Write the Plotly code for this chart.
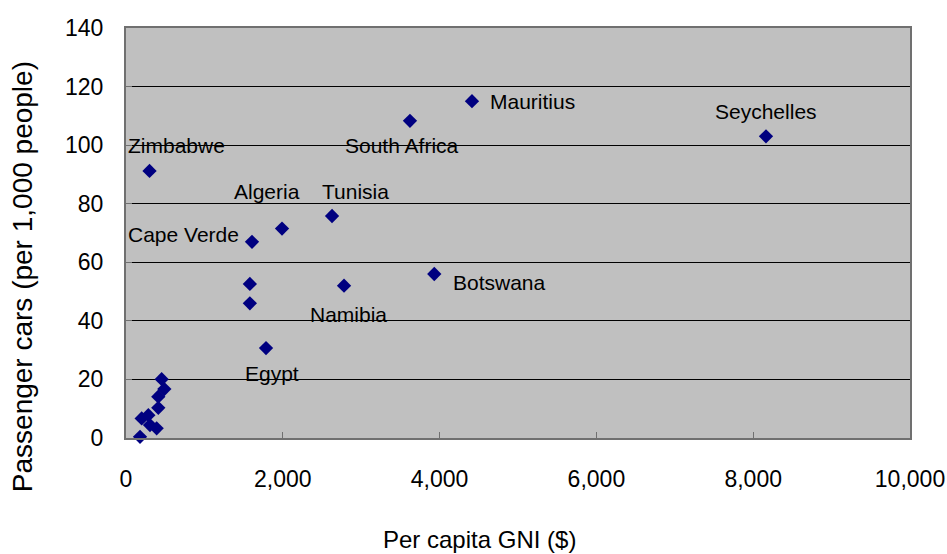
import plotly.graph_objects as go

# Data
countries = ["Mauritius", "Seychelles", "South Africa", "Zimbabwe", "Tunisia",
             "Algeria", "Cape Verde", "Botswana", "", "", "Namibia", "Egypt",
             "", "", "", "", "", "", "", "", ""]
gni = [4413, 8163, 3622, 300, 2628,
       1990, 1607, 3932, 1580, 1580, 2781, 1786,
       455, 489, 412, 412, 200, 285, 391, 306, 179]
cars = [115.0, 103.0, 108.3, 91.2, 75.8,
        71.5, 67.0, 56.0, 52.6, 46.0, 52.0, 30.7,
        20.1, 16.7, 14.1, 10.3, 6.7, 7.8, 3.3, 4.4, 0.4]

x_ticks = [0, 2000, 4000, 6000, 8000, 10000]
y_ticks = [0, 20, 40, 60, 80, 100, 120, 140]

# Label placement (style): anchor and pixel offsets from the point
label_style = {
    "Mauritius": ("left", 16, 0),
    "Seychelles": ("center", 0, 25),
    "South Africa": ("center", -8, -25),
    "Zimbabwe": ("center", 27, 25),
    "Tunisia": ("center", 23, 25),
    "Algeria": ("center", -15, 37),
    "Cape Verde": ("right", -11, 7),
    "Botswana": ("left", 17, -8),
    "Namibia": ("center", 4, -29),
    "Egypt": ("center", 6, -25),
}

FONT = "Liberation Sans, Arial, sans-serif"

fig = go.Figure()
fig.add_trace(go.Scatter(
    x=gni, y=cars, mode="markers",
    marker=dict(symbol="diamond", size=11, color="#000080", line=dict(width=0)),
    cliponaxis=False, showlegend=False, hoverinfo="x+y",
))

annotations = []
for name, xv, yv in zip(countries, gni, cars):
    if not name:
        continue
    anchor, dx, dy = label_style[name]
    annotations.append(dict(
        x=xv, y=yv, xref="x", yref="y", text=name, showarrow=False,
        xanchor=anchor, yanchor="middle", xshift=dx, yshift=dy,
        font=dict(family=FONT, size=21, color="black"),
    ))

annotations.append(dict(
    x=0.4515, y=-0.2465, xref="paper", yref="paper", text="Per capita GNI ($)",
    showarrow=False, xanchor="center", yanchor="middle",
    font=dict(family=FONT, size=24, color="black"),
))
annotations.append(dict(
    x=-0.131, y=0.393, xref="paper", yref="paper",
    text="Passenger cars (per 1,000 people)", textangle=-90,
    showarrow=False, xanchor="center", yanchor="middle",
    font=dict(family=FONT, size=28, color="black"),
))

fig.update_layout(
    width=947, height=554,
    margin=dict(l=126, r=37, t=28, b=116, autoexpand=False),
    paper_bgcolor="white", plot_bgcolor="#C0C0C0",
    font=dict(family=FONT, color="black"),
    annotations=annotations,
)
fig.update_xaxes(
    range=[0, 10000], tickvals=x_ticks, tickformat=",d",
    showgrid=False, zeroline=False, automargin=False,
    showline=True, linecolor="#707070", linewidth=2, mirror=True,
    ticks="inside", ticklen=6, tickcolor="#707070",
    ticklabelstandoff=19,
    tickfont=dict(family=FONT, size=23, color="black"),
)
fig.update_yaxes(
    range=[0, 140], tickvals=y_ticks, automargin=False,
    showgrid=True, gridcolor="black", gridwidth=1, zeroline=False,
    showline=True, linecolor="#707070", linewidth=2, mirror=True,
    ticks="inside", ticklen=6, tickcolor="#707070",
    ticklabelstandoff=16,
    tickfont=dict(family=FONT, size=23, color="black"),
)

fig.write_html("out.html")
